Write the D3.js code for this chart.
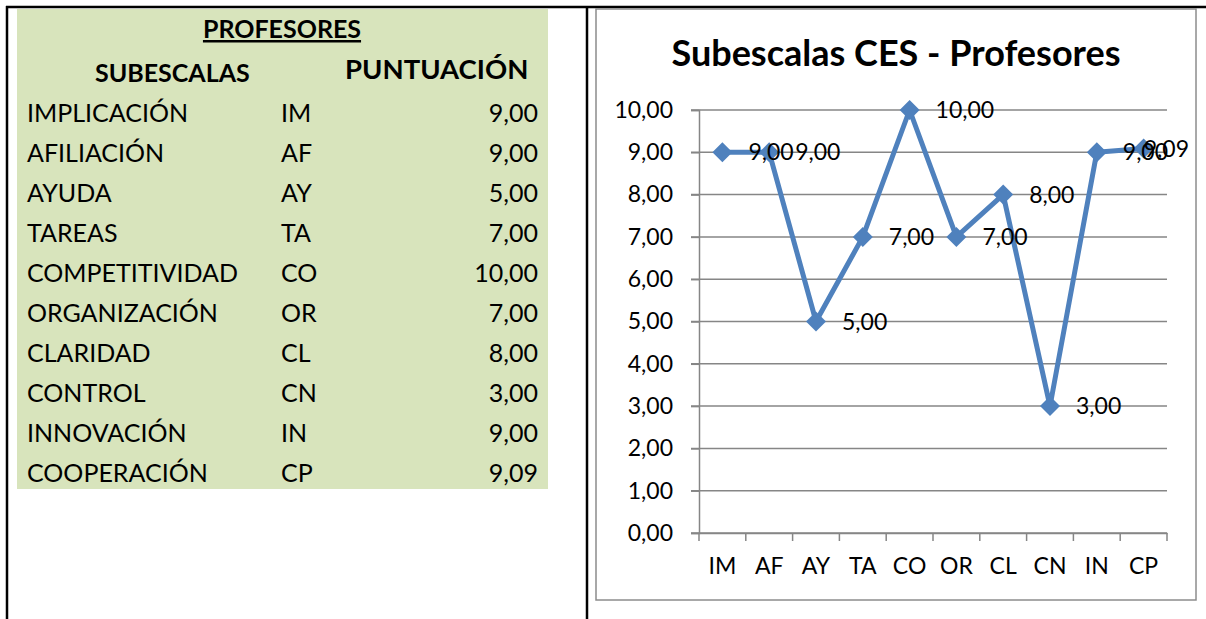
<!DOCTYPE html>
<html>
<head>
<meta charset="utf-8">
<script src="https://cdn.jsdelivr.net/npm/d3@7"></script>
<style>
  body { margin: 0; background: #fff; }
  svg { display: block; font-family: Lato, "Open Sans", sans-serif; }
</style>
</head>
<body>
<script>
const width = 1206;
const height = 619;

// data
const subescalas = ["IMPLICACIÓN", "AFILIACIÓN", "AYUDA", "TAREAS", "COMPETITIVIDAD",
  "ORGANIZACIÓN", "CLARIDAD", "CONTROL", "INNOVACIÓN", "COOPERACIÓN"];
const codes = ["IM", "AF", "AY", "TA", "CO", "OR", "CL", "CN", "IN", "CP"];
const values = [9, 9, 5, 7, 10, 7, 8, 3, 9, 9.09];
const yTicks = [0, 1, 2, 3, 4, 5, 6, 7, 8, 9, 10];

const es = d3.formatLocale({ decimal: ",", thousands: ".", grouping: [3], currency: ["", " €"] });
const fmt = es.format(".2f");

const svg = d3.select("body").append("svg")
  .attr("width", width)
  .attr("height", height);

// ---- table (left) ----
const table = svg.append("g");

table.append("rect")
  .attr("x", 17).attr("y", 9)
  .attr("width", 531).attr("height", 480)
  .attr("fill", "#d8e4bc");

table.append("text")
  .attr("x", 282).attr("y", 38)
  .attr("text-anchor", "middle")
  .attr("font-size", 25).attr("font-weight", "bold")
  .attr("text-decoration", "underline")
  .text("PROFESORES");

table.append("text")
  .attr("x", 95).attr("y", 82)
  .attr("font-size", 25).attr("font-weight", "bold")
  .text("SUBESCALAS");

table.append("text")
  .attr("x", 345).attr("y", 79)
  .attr("font-size", 27.5).attr("font-weight", "bold")
  .text("PUNTUACIÓN");

const rowY = d3.scalePoint().domain(codes).range([113, 473]);

const rows = table.selectAll("g.row")
  .data(codes)
  .join("g")
  .attr("class", "row")
  .attr("transform", (d) => `translate(0,${rowY(d)})`)
  .attr("font-size", 25);

rows.append("text").attr("x", 27).attr("dy", "0.35em").text((d, i) => subescalas[i]);
rows.append("text").attr("x", 281).attr("dy", "0.35em").text((d) => d);
rows.append("text").attr("x", 538).attr("dy", "0.35em")
  .attr("text-anchor", "end")
  .text((d, i) => fmt(values[i]));

// frame lines
svg.append("line").attr("x1", 6).attr("x2", width).attr("y1", 7).attr("y2", 7)
  .attr("stroke", "#000").attr("stroke-width", 2.5);
svg.append("line").attr("x1", 7).attr("x2", 7).attr("y1", 6).attr("y2", height)
  .attr("stroke", "#000").attr("stroke-width", 2.5);
svg.append("line").attr("x1", 587).attr("x2", 587).attr("y1", 6).attr("y2", height)
  .attr("stroke", "#000").attr("stroke-width", 2.5);

// ---- chart (right) ----
svg.append("rect")
  .attr("x", 596).attr("y", 9)
  .attr("width", 600).attr("height", 591)
  .attr("fill", "#fff")
  .attr("stroke", "#8c8c8c").attr("stroke-width", 1.5);

svg.append("text")
  .attr("x", 896).attr("y", 66)
  .attr("text-anchor", "middle")
  .attr("font-size", 36).attr("font-weight", "bold")
  .text("Subescalas CES - Profesores");

const x = d3.scaleBand().domain(codes).range([699, 1167]);
const y = d3.scaleLinear().domain([0, 10]).range([533, 110]);

// gridlines
svg.append("g")
  .selectAll("line")
  .data(yTicks)
  .join("line")
  .attr("x1", 691).attr("x2", 1167)
  .attr("y1", (d) => y(d)).attr("y2", (d) => y(d))
  .attr("stroke", "#868686").attr("stroke-width", 1.5);

// y axis
const yAxis = svg.append("g")
  .attr("transform", "translate(699,0)")
  .call(d3.axisLeft(y).tickValues(yTicks).tickFormat(fmt).tickSize(8).tickPadding(18));
yAxis.select(".domain").attr("stroke", "#868686").attr("stroke-width", 1.5);
yAxis.selectAll(".tick line").attr("stroke", "#868686").attr("stroke-width", 1.5);
yAxis.selectAll(".tick text").attr("font-size", 23).attr("fill", "#000")
  .attr("font-family", "Lato, sans-serif");

// x axis
const xAxis = svg.append("g")
  .attr("transform", "translate(0,533)")
  .call(d3.axisBottom(x).tickSize(0).tickPadding(25));
xAxis.select(".domain").attr("stroke", "#868686").attr("stroke-width", 1.5);
xAxis.selectAll(".tick text").attr("font-size", 23).attr("fill", "#000")
  .attr("font-family", "Lato, sans-serif");
xAxis.append("g")
  .selectAll("line")
  .data(codes.concat(["end"]))
  .join("line")
  .attr("x1", (d, i) => x.range()[0] + i * x.bandwidth())
  .attr("x2", (d, i) => x.range()[0] + i * x.bandwidth())
  .attr("y1", 0).attr("y2", 8)
  .attr("stroke", "#868686").attr("stroke-width", 1.5);

const cx = (d, i) => x(codes[i]) + x.bandwidth() / 2;

// line
svg.append("path")
  .datum(values)
  .attr("fill", "none")
  .attr("stroke", "#4f81bd")
  .attr("stroke-width", 5)
  .attr("stroke-linejoin", "round")
  .attr("d", d3.line().x(cx).y((d) => y(d)));

// markers
svg.append("g")
  .selectAll("path")
  .data(values)
  .join("path")
  .attr("transform", (d, i) => `translate(${cx(d, i)},${y(d)}) rotate(45)`)
  .attr("d", d3.symbol(d3.symbolSquare, 200))
  .attr("fill", "#4f81bd");

// data labels, kept inside the chart box like excel does
const labelMax = 1189;
svg.append("g")
  .selectAll("text")
  .data(values)
  .join("text")
  .attr("y", (d) => y(d))
  .attr("dy", "0.35em")
  .attr("font-size", 23)
  .text((d) => fmt(d))
  .attr("x", function (d, i) {
    const w = this.getComputedTextLength();
    return Math.min(cx(d, i) + 26, labelMax - w);
  });
</script>
</body>
</html>
